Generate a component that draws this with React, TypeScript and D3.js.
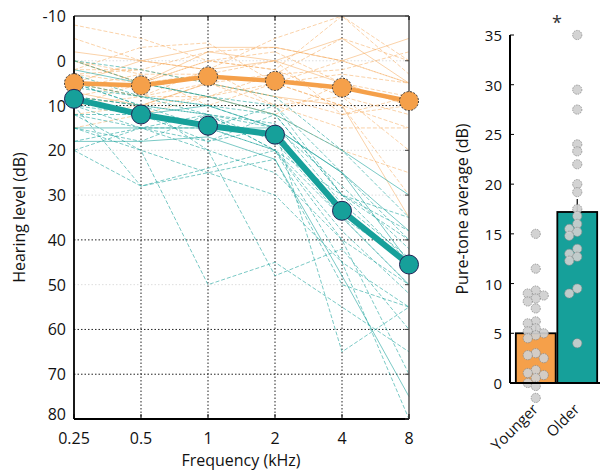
import React from "react";
import * as d3 from "d3";

// audiogram frequencies (kHz)
const freqs = [0.25, 0.5, 1, 2, 4, 8];
const freqLabels = ["0.25", "0.5", "1", "2", "4", "8"];
const levelTicks = [-10, 0, 10, 20, 30, 40, 50, 60, 70, 80];
const faintGrid = [0, 20, 30, 50];

// group means (dB HL)
const youngMean = [5, 5.5, 3.5, 4.5, 6, 9];
const oldMean = [8.5, 12, 14.5, 16.5, 33.5, 45.5];

// individual audiograms, younger listeners
const youngSubjects = [
  [-5, 0, 2, -5, -10, 0],
  [2, -3, -4, 5, 0, 5],
  [0, 5, -2, 0, 5, 10],
  [5, 8, 5, 3, -5, 0],
  [10, 5, 0, -2, 5, 8],
  [8, 10, 8, 5, 10, 15],
  [2, 2, 5, 10, 8, 20],
  [5, 0, -3, -3, 0, -5],
  [12, 10, 5, 8, 12, 10],
  [0, 3, 10, 5, 3, 5],
  [15, 12, 8, 12, 20, 25],
  [3, 5, 0, 2, 8, 12],
  [-2, 0, 2, 0, -5, 5],
  [8, 5, 3, 5, 10, 30],
  [5, 8, 2, 10, 15, 15],
  [10, 8, 8, 12, 5, 10],
  [0, 5, 8, 3, 2, -2],
  [7, 10, 5, 8, 10, 35],
  [3, 2, -2, -3, 0, 5],
  [6, 3, 3, 0, 12, 8],
  [-8, -5, 0, 2, -10, 3],
];

// individual audiograms, older listeners
const oldSubjects = [
  [0, 5, 8, 10, 25, 40],
  [10, 15, 15, 20, 45, 55],
  [5, 10, 12, 15, 35, 50],
  [12, 15, 20, 25, 40, 70],
  [20, 15, 18, 12, 30, 35],
  [8, 12, 10, 15, 25, 45],
  [15, 18, 12, 20, 40, 50],
  [3, 8, 10, 12, 30, 38],
  [10, 28, 25, 22, 50, 55],
  [5, 10, 15, 20, 35, 45],
  [12, 12, 18, 15, 65, 55],
  [2, 5, 8, 12, 20, 30],
  [8, 10, 20, 48, 42, 60],
  [10, 12, 15, 10, 30, 40],
  [15, 20, 25, 30, 45, 80],
  [6, 8, 10, 15, 28, 42],
  [18, 15, 12, 18, 35, 50],
  [15, 15, 15, 15, 25, 38],
  [0, 2, 5, 8, 20, 35],
  [8, 10, 12, 20, 38, 52],
  [20, 28, 24, 20, 30, 45],
  [12, 20, 50, 45, 55, 65],
  [5, 8, 12, 14, 32, 44],
  [18, 18, 17, 22, 48, 75],
];

// pure-tone averages
const groups = ["Younger", "Older"];
const ptaMean = [5.0, 17.2];
const ptaSem = [0.8, 1.3];
const ptaYoung = [15, 11.5, 9.3, 9, 8.8, 8.5, 8.2, 7.5, 6.2, 6, 5.5, 5.2, 5, 4.8, 4.5, 3, 2.8, 2.5, 1.3, 1, 0.8, 0.5, 0, -0.3, -1.5];
const ptaOld = [35, 29.5, 27.5, 24, 23.3, 22, 20, 19.2, 17.5, 16.8, 16, 15.5, 15.2, 14.8, 13.5, 13, 12.7, 12.3, 9.5, 9, 4];
const ptaTicks = [0, 5, 10, 15, 20, 25, 30, 35];

const ORANGE = "#F5A04A";
const TEAL = "#16A09A";
const FONT = "'Open Sans', sans-serif";

function dodge(values: number[], y: (v: number) => number, r: number) {
  const placed: { x: number; y: number }[] = [];
  const out: number[] = [];
  values.forEach((v) => {
    const py = y(v);
    const cands = [0, -4, 4, -8, 8, -11, 11, -14, 14];
    let chosen = 0;
    for (const c of cands) {
      if (placed.every((p) => Math.hypot(p.x - c, p.y - py) >= r * 1.5)) {
        chosen = c;
        break;
      }
    }
    placed.push({ x: chosen, y: py });
    out.push(chosen);
  });
  return out;
}

export default function App() {
  const W = 602;
  const H = 470;

  // audiogram panel
  const x = d3.scaleLog().base(2).domain([0.25, 8]).range([74, 409]);
  const y = d3.scaleLinear().domain([-10, 80]).range([16, 419]);
  const line = d3
    .line<number>()
    .x((_, i) => x(freqs[i]))
    .y((d) => y(d));

  // PTA panel
  const yb = d3.scaleLinear().domain([0, 35]).range([383, 35]);
  const xb = d3.scaleBand().domain(groups).range([515, 598]).paddingInner(0.04).paddingOuter(0.02);
  const ptaPoints = [ptaYoung, ptaOld];

  return (
    <svg width={W} height={H} style={{ position: "absolute", left: 0, top: 0, background: "#fff" }} fontFamily={FONT}>
      {/* grid */}
      {levelTicks.slice(1, -1).map((t) => (
        <line key={"gy" + t} x1={74} x2={409} y1={y(t)} y2={y(t)} stroke={faintGrid.includes(t) ? "#ddd" : "#222"} strokeWidth={1} strokeDasharray="1.5,2" />
      ))}
      {freqs.slice(1, -1).map((f) => (
        <line key={"gx" + f} x1={x(f)} x2={x(f)} y1={16} y2={419} stroke="#222" strokeWidth={1} strokeDasharray="1.5,2" />
      ))}

      {/* individual lines */}
      {youngSubjects.map((s, i) => (
        <path key={"ys" + i} d={line(s) || ""} fill="none" stroke={ORANGE} strokeOpacity={0.6} strokeWidth={0.8} strokeDasharray={i % 5 === 2 ? undefined : "4,2"} />
      ))}
      {oldSubjects.map((s, i) => (
        <path key={"os" + i} d={line(s) || ""} fill="none" stroke={TEAL} strokeOpacity={0.72} strokeWidth={0.8} strokeDasharray={i % 6 === 5 ? undefined : "4,2"} />
      ))}

      {/* frame */}
      <line x1={74} x2={409} y1={16} y2={16} stroke="#444" strokeWidth={1.5} />
      <line x1={409} x2={409} y1={16} y2={419} stroke="#555" strokeWidth={1.5} />
      <line x1={74} x2={74} y1={16} y2={419} stroke="#000" strokeWidth={1.8} />
      <line x1={74} x2={409} y1={419} y2={419} stroke="#000" strokeWidth={1.8} />
      {freqs.map((f) => (
        <g key={"tx" + f}>
          <line x1={x(f)} x2={x(f)} y1={419} y2={414} stroke="#000" />
          <line x1={x(f)} x2={x(f)} y1={16} y2={20} stroke="#000" />
        </g>
      ))}
      {levelTicks.map((t) => (
        <line key={"ty" + t} x1={409} x2={405} y1={y(t)} y2={y(t)} stroke="#444" />
      ))}

      {/* means */}
      <path d={line(youngMean) || ""} fill="none" stroke={ORANGE} strokeWidth={4.5} />
      <path d={line(oldMean) || ""} fill="none" stroke={TEAL} strokeWidth={6} />
      {youngMean.map((v, i) => (
        <circle key={"ym" + i} cx={x(freqs[i])} cy={y(v)} r={9.5} fill={ORANGE} stroke="#333" strokeWidth={1} strokeDasharray="2,1.5" />
      ))}
      {oldMean.map((v, i) => (
        <circle key={"om" + i} cx={x(freqs[i])} cy={y(v)} r={9.5} fill={TEAL} stroke="#225" strokeWidth={1} />
      ))}

      {/* tick labels */}
      {levelTicks.map((t) => (
        <text key={"ly" + t} x={66} y={t === 80 ? y(t) - 5 : y(t)} textAnchor="end" dominantBaseline="central" fontSize={16} fill="#111">
          {t}
        </text>
      ))}
      {freqs.map((f, i) => (
        <text key={"lx" + f} x={x(f)} y={438} textAnchor="middle" dominantBaseline="central" fontSize={16} fill="#111">
          {freqLabels[i]}
        </text>
      ))}
      <text x={241} y={460} textAnchor="middle" dominantBaseline="central" fontSize={16} fill="#111">
        Frequency (kHz)
      </text>
      <text transform={`translate(19,${y(35)}) rotate(-90)`} textAnchor="middle" dominantBaseline="central" fontSize={16} fill="#111">
        Hearing level (dB)
      </text>

      {/* PTA bars */}
      {groups.map((g, i) => (
        <g key={"bar" + g}>
          <line x1={xb(g)! + xb.bandwidth() / 2} x2={xb(g)! + xb.bandwidth() / 2} y1={yb(ptaMean[i])} y2={yb(ptaMean[i] + ptaSem[i])} stroke="#000" strokeWidth={1.2} />
          <rect x={xb(g)} y={yb(ptaMean[i])} width={xb.bandwidth()} height={yb(0) - yb(ptaMean[i])} fill={i === 0 ? ORANGE : TEAL} stroke="#000" strokeWidth={1.8} />
        </g>
      ))}
      {groups.map((g, i) => {
        const offs = dodge(ptaPoints[i], yb, 4.6);
        const cx = xb(g)! + xb.bandwidth() / 2;
        return ptaPoints[i].map((v, j) => (
          <circle key={g + j} cx={cx + offs[j]} cy={yb(v)} r={4.6} fill="#cfcfcf" fillOpacity={0.92} stroke="#888" strokeWidth={0.8} strokeDasharray="1.5,1" />
        ));
      })}
      <line x1={510} x2={510} y1={yb(35)} y2={yb(0)} stroke="#000" strokeWidth={2} />
      <line x1={510} x2={600} y1={yb(0)} y2={yb(0)} stroke="#000" strokeWidth={1.8} />
      {ptaTicks.map((t) => (
        <g key={"pt" + t}>
          <line x1={510} x2={514} y1={yb(t)} y2={yb(t)} stroke="#000" />
          <text x={502} y={yb(t)} textAnchor="end" dominantBaseline="central" fontSize={15} fill="#111">
            {t}
          </text>
        </g>
      ))}
      <text transform={`translate(462,${yb(17.5)}) rotate(-90)`} textAnchor="middle" dominantBaseline="central" fontSize={16} fill="#111">
        Pure-tone average (dB)
      </text>
      {groups.map((g) => (
        <text key={"gl" + g} transform={`translate(${xb(g)! + xb.bandwidth() / 2 - 1},406) rotate(-45)`} textAnchor="end" dominantBaseline="central" fontSize={15} fill="#111">
          {g}
        </text>
      ))}
      <text x={557} y={22} textAnchor="middle" dominantBaseline="central" fontSize={18} fill="#333">
        *
      </text>
    </svg>
  );
}
